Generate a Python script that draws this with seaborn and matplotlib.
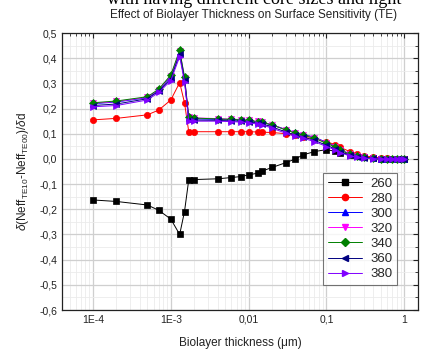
import numpy as np
import pandas as pd
import matplotlib
matplotlib.use("Agg")
import matplotlib.pyplot as plt
import seaborn as sns
from matplotlib.ticker import FixedLocator, FixedFormatter, MultipleLocator, LogLocator, NullFormatter
from matplotlib.lines import Line2D

thickness = [1e-4, 2e-4, 5e-4, 7e-4, 1e-3, 1.3e-3, 1.5e-3, 1.7e-3, 2e-3, 4e-3, 6e-3, 8e-3,
             0.01, 0.013, 0.015, 0.02, 0.03, 0.04, 0.05, 0.07, 0.1, 0.13, 0.15, 0.2, 0.25,
             0.3, 0.4, 0.5, 0.6, 0.7, 0.8, 0.9, 1.0]

s260 = [-0.163, -0.169, -0.183, -0.204, -0.239, -0.300, -0.209, -0.083, -0.082, -0.079, -0.074, -0.070,
        -0.063, -0.057, -0.048, -0.034, -0.015, 0.000, 0.016, 0.029, 0.037, 0.030, 0.025, 0.016, 0.010,
        0.006, 0.003, 0.001, 0.0, 0.0, 0.0, 0.0, 0.0]
s280 = [0.155, 0.161, 0.175, 0.194, 0.234, 0.303, 0.223, 0.108, 0.108, 0.108, 0.108, 0.108,
        0.108, 0.107, 0.106, 0.105, 0.100, 0.093, 0.086, 0.080, 0.069, 0.056, 0.046, 0.029, 0.020,
        0.013, 0.007, 0.004, 0.002, 0.001, 0.0, 0.0, 0.0]
s300 = [0.219, 0.226, 0.243, 0.272, 0.326, 0.424, 0.320, 0.162, 0.159, 0.157, 0.155, 0.153,
        0.151, 0.147, 0.144, 0.135, 0.117, 0.105, 0.098, 0.086, 0.066, 0.050, 0.037, 0.020, 0.011,
        0.006, 0.003, 0.001, 0.0, 0.0, 0.0, 0.0, 0.0]
s320 = [0.221, 0.228, 0.245, 0.275, 0.330, 0.428, 0.323, 0.166, 0.163, 0.160, 0.158, 0.156,
        0.154, 0.149, 0.146, 0.136, 0.116, 0.103, 0.096, 0.084, 0.064, 0.048, 0.036, 0.019, 0.010,
        0.006, 0.003, 0.001, 0.0, 0.0, 0.0, 0.0, 0.0]
s340 = [0.223, 0.230, 0.247, 0.277, 0.333, 0.432, 0.325, 0.165, 0.162, 0.159, 0.157, 0.155,
        0.153, 0.148, 0.145, 0.135, 0.115, 0.102, 0.094, 0.082, 0.062, 0.047, 0.035, 0.018, 0.010,
        0.006, 0.003, 0.001, 0.0, 0.0, 0.0, 0.0, 0.0]
s360 = [0.212, 0.218, 0.239, 0.269, 0.318, 0.416, 0.312, 0.156, 0.154, 0.153, 0.151, 0.149,
        0.147, 0.142, 0.139, 0.127, 0.107, 0.094, 0.087, 0.074, 0.054, 0.040, 0.029, 0.014, 0.007,
        0.004, 0.002, 0.001, 0.0, 0.0, 0.0, 0.0, 0.0]
s380 = [0.207, 0.212, 0.234, 0.264, 0.311, 0.406, 0.307, 0.152, 0.150, 0.150, 0.148, 0.146,
        0.144, 0.138, 0.135, 0.122, 0.102, 0.089, 0.082, 0.069, 0.049, 0.036, 0.025, 0.012, 0.006,
        0.003, 0.001, 0.0, 0.0, 0.0, 0.0, 0.0, 0.0]

series_names = ["260", "280", "300", "320", "340", "360", "380"]
series_values = [s260, s280, s300, s320, s340, s360, s380]
colors = ["#000000", "#FF0000", "#0000FF", "#FF00FF", "#008000", "#000080", "#8000FF"]
marker_list = ["s", "o", "^", "v", "D", "<", ">"]

ytick_vals = [0.5, 0.4, 0.3, 0.2, 0.1, 0.0, -0.1, -0.2, -0.3, -0.4, -0.5, -0.6]
ytick_labels = ["0,5", "0,4", "0,3", "0,2", "0,1", "0,0", "-0,1", "-0,2", "-0,3", "-0,4", "-0,5", "-0,6"]
xtick_vals = [1e-4, 1e-3, 1e-2, 1e-1, 1]
xtick_labels = ["1E-4", "1E-3", "0,01", "0,1", "1"]

rows = []
for name, vals in zip(series_names, series_values):
    for x, y in zip(thickness, vals):
        rows.append({"thickness": x, "value": y, "series": name})
df = pd.DataFrame(rows)

sns.set_style("white")
plt.rcParams["font.family"] = ["Liberation Sans", "DejaVu Sans"]
plt.rcParams["mathtext.fontset"] = "custom"
plt.rcParams["mathtext.rm"] = "Liberation Sans"
plt.rcParams["mathtext.it"] = "Liberation Sans:italic"

fig = plt.figure(figsize=(4.35, 3.54), dpi=100)
ax = fig.add_axes([62/435, 1 - 310/354, 356/435, 277/354])

ax.set_xscale("log")
ax.grid(True, which="major", color="#cfcfcf", linewidth=0.9, zorder=0)
ax.grid(True, which="minor", color="#ebebeb", linewidth=0.6, zorder=0)
ax.set_axisbelow(True)

sns.lineplot(data=df, x="thickness", y="value", hue="series", style="series",
             hue_order=series_names, style_order=series_names,
             palette=dict(zip(series_names, colors)),
             markers=dict(zip(series_names, marker_list)), dashes=False,
             markersize=4.5, markeredgewidth=0.5, linewidth=0.7, ax=ax, legend=False)
for line, c in zip(ax.lines, colors):
    line.set_markeredgecolor(c)
    line.set_markerfacecolor(c)

ax.set_xlim(4e-5, 1.5)
ax.set_ylim(-0.6, 0.5)
ax.yaxis.set_major_locator(FixedLocator(ytick_vals))
ax.yaxis.set_major_formatter(FixedFormatter(ytick_labels))
ax.yaxis.set_minor_locator(MultipleLocator(0.05))
ax.xaxis.set_major_locator(FixedLocator(xtick_vals))
ax.xaxis.set_major_formatter(FixedFormatter(xtick_labels))
ax.xaxis.set_minor_locator(LogLocator(base=10, subs=np.arange(2, 10), numticks=20))
ax.xaxis.set_minor_formatter(NullFormatter())
ax.tick_params(which="both", direction="in", top=True, right=True, labelsize=7.5, colors="#222222")
ax.tick_params(which="major", length=3.5, width=0.8)
ax.tick_params(which="minor", length=2, width=0.6)
for sp in ax.spines.values():
    sp.set_color("#222222")
    sp.set_linewidth(0.9)

ax.set_xlabel("Biolayer thickness (\u03bcm)", fontsize=8.5, labelpad=9, color="#222222")
ax.set_ylabel(r"$\delta$(Neff$_{\mathrm{TE10}}$-Neff$_{\mathrm{TE00}}$)/$\delta$d",
              fontsize=8.5, labelpad=6, color="#222222")
fig.text(254/435, 1 - 15/354, "Effect of Biolayer Thickness on Surface Sensitivity (TE)",
         ha="center", va="center", fontsize=8.5, color="#222222")
fig.text(254/435, 1 - 4/354, "with having different core sizes and light",
         ha="center", va="baseline", fontsize=13, color="#000000",
         family=["Liberation Serif", "DejaVu Serif"])

handles = [Line2D([0], [0], color=c, marker=m, markersize=4.5, linewidth=0.7,
                  markerfacecolor=c, markeredgecolor=c)
           for c, m in zip(colors, marker_list)]
leg = ax.legend(handles, series_names, loc="upper right",
                bbox_to_anchor=((397 - 62) / 356, (310 - 172.7) / 277), borderaxespad=0,
                fontsize=9.5, frameon=True, fancybox=False, edgecolor="#555555",
                handlelength=2.6, borderpad=0.35, labelspacing=0.22, handletextpad=0.6)
leg.get_frame().set_linewidth(0.8)

fig.savefig("out.png", dpi=100)
